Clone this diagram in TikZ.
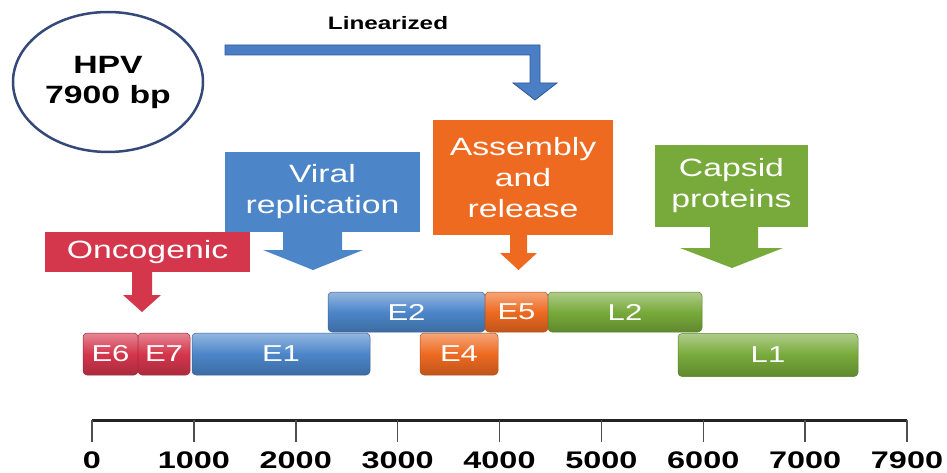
\documentclass[tikz,border=0pt]{standalone}
\usepackage{fontspec}
\setmainfont{Liberation Sans}[FakeStretch=1.35]
\usepackage{xcolor}
\definecolor{hpvnavy}{HTML}{34487A}
\definecolor{genered}{HTML}{D4364C}
\definecolor{geneblue}{HTML}{4C86C9}
\definecolor{geneorange}{HTML}{EE6A21}
\definecolor{genegreen}{HTML}{78AA3B}
\definecolor{linblue}{HTML}{4A7FC6}
\definecolor{linedge}{HTML}{2F5597}
\definecolor{axisgray}{HTML}{222222}
\usepackage{tikz}
\usetikzlibrary{shapes.geometric, calc}
\tikzset{
  hpvbox/.style ={ellipse, draw=hpvnavy, line width=2.5pt, fill=white, align=center, inner sep=0pt,
                  font=\bfseries\fontsize{25}{30}\selectfont},
  callout/.style={rectangle, fill=#1, text=white, align=center, inner sep=0pt,
                  font=\fontsize{25}{31}\selectfont},
  gene/.style   ={rectangle, rounded corners=4pt, draw=#1!75!black, line width=0.5pt,
                  top color=#1!60!white, bottom color=#1!80!black, middle color=#1,
                  text=white, inner sep=0pt, font=\fontsize{23}{23}\selectfont},
  linlbl/.style ={font=\bfseries\fontsize{18}{18}\selectfont, inner sep=0pt},
  axline/.style ={line width=3pt, color=axisgray},
  axtick/.style ={line width=1.5pt, color=axisgray!80},
  axlbl/.style  ={font=\bfseries\fontsize{24}{24}\selectfont, inner sep=0pt},
}
\begin{document}
\begin{tikzpicture}[x=1pt, y=-1pt]
  \useasboundingbox (0,0) rectangle (947,473);
  \node[hpvbox, minimum width=190, minimum height=140] (hpv) at (108,82) {HPV\\7900 bp};
  \node[linlbl] (lin) at (388,23) {Linearized};
  \coordinate (linstart) at (225,50);
  \coordinate (lintip) at (535,100);
  \filldraw[fill=linblue, draw=linedge, line width=0.8pt]
    ($(linstart)+(0,-5)$) -- ($(lintip)+(5,-55)$) -- ($(lintip)+(5,-17)$) -- ($(lintip)+(22,-17)$)
    -- (lintip) -- ($(lintip)+(-22,-17)$) -- ($(lintip)+(-5,-17)$) -- ($(lintip)+(-5,-45)$)
    -- ($(linstart)+(0,5)$) -- cycle;

  \node[callout=geneblue, minimum width=195, minimum height=80] (vir) at (322.5,192) {Viral\\replication};
  \node[callout=genered, minimum width=205, minimum height=40] (onc) at (147.5,252) {Oncogenic};
  \node[callout=geneorange, minimum width=180, minimum height=115] (asm) at (523,177.5) {Assembly\\and\\release};
  \node[callout=genegreen, minimum width=153, minimum height=82] (cap) at (731.5,186) {Capsid\\proteins};

  \fill[geneblue] (283,231) -- (283,250) -- (263,250) -- (313,270) -- (363,250) -- (342,250) -- (342,231) -- cycle;
  \fill[genered] (132,271) -- (132,295) -- (123,295) -- (142,312) -- (161,295) -- (152,295) -- (152,271) -- cycle;
  \fill[geneorange] (510,234) -- (510,253) -- (500,253) -- (518.5,270) -- (537,253) -- (527,253) -- (527,234) -- cycle;
  \fill[genegreen] (710,226) -- (710,248) -- (680,248) -- (732,268) -- (783,248) -- (758,248) -- (758,226) -- cycle;

  \node[gene=genered, minimum width=55, minimum height=42] (e6) at (110.5,354) {E6};
  \node[gene=genered, minimum width=52, minimum height=42] (e7) at (164,354) {E7};
  \node[gene=geneblue, minimum width=178, minimum height=42] (e1) at (281,354) {E1};
  \node[gene=geneblue, minimum width=157, minimum height=40] (e2) at (406.5,312) {E2};
  \node[gene=geneorange, minimum width=78, minimum height=42] (e4) at (459,354) {E4};
  \node[gene=geneorange, minimum width=63, minimum height=40] (e5) at (516.5,312) {E5};
  \node[gene=genegreen, minimum width=154, minimum height=40] (l2) at (625,312) {L2};
  \node[gene=genegreen, minimum width=180, minimum height=43] (l1) at (768,355) {L1};

  \coordinate (ax0) at (92,420);
  \coordinate (axend) at (907,420);
  \draw[axline] (ax0) -- (axend);
  \foreach \k/\lab in {0/0, 1/1000, 2/2000, 3/3000, 4/4000, 5/5000, 6/6000, 7/7000, 8/7900} {
    \coordinate (tk\k) at ($(ax0)+(101.875*\k,0)$);
    \draw[axtick] (tk\k) -- ++(0,22);
    \node[axlbl] (lb\k) at ($(tk\k)+(0,40)$) {\lab};
  }
\end{tikzpicture}
\end{document}
